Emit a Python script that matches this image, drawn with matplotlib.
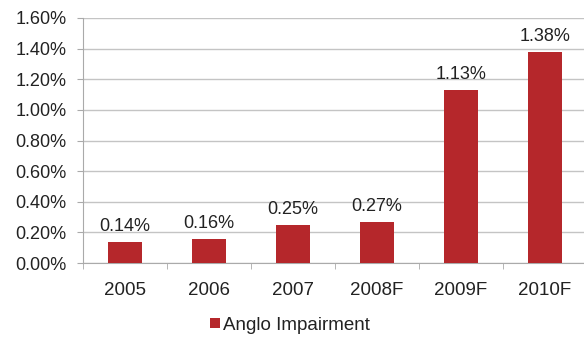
import numpy as np
import matplotlib
matplotlib.use("Agg")
import matplotlib.pyplot as plt
from matplotlib.ticker import FuncFormatter

years = ["2005", "2006", "2007", "2008F", "2009F", "2010F"]
impairment = [0.14, 0.16, 0.25, 0.27, 1.13, 1.38]
y_ticks = [0.0, 0.2, 0.4, 0.6, 0.8, 1.0, 1.2, 1.4, 1.6]

plt.rcParams['font.family'] = ['Liberation Sans', 'DejaVu Sans']

fig = plt.figure(figsize=(5.84, 3.37), dpi=100)
ax = fig.add_axes([83 / 584, 1 - 263 / 337, 504 / 584, 245 / 337])

x = np.arange(len(years))
bars = ax.bar(x, impairment, width=0.4, color="#b5272b", zorder=3,
              label="Anglo Impairment")

for xi, v in zip(x, impairment):
    ax.annotate("%.2f%%" % v, (xi, v), xytext=(0, 5), textcoords="offset points",
                ha="center", va="bottom", fontsize=13, color="#222222")

ax.set_xlim(-0.5, len(years) - 0.5)
ax.set_ylim(0, 1.6)
ax.set_yticks(y_ticks)
ax.yaxis.set_major_formatter(FuncFormatter(lambda v, p: "%.2f%%" % v))
ax.grid(axis="y", color="#c4c4c4", linewidth=1, zorder=0)

# category labels sit between the boundary tick marks
ax.set_xticks(x)
ax.set_xticklabels(years)
ax.set_xticks(np.arange(len(years) + 1) - 0.5, minor=True)
ax.tick_params(axis="x", which="major", length=0, pad=14, labelsize=13.5,
               colors="#222222")
ax.tick_params(axis="x", which="minor", length=4, color="#aaaaaa")
ax.tick_params(axis="y", length=4, color="#aaaaaa", labelsize=13, pad=8,
               labelcolor="#222222")

for side in ["top", "right"]:
    ax.spines[side].set_visible(False)
for side in ["left", "bottom"]:
    ax.spines[side].set_color("#aaaaaa")

fig.legend(handles=[bars], labels=["Anglo Impairment"], loc="center",
           bbox_to_anchor=(290 / 584, 1 - 325 / 337), frameon=False,
           fontsize=13.5, handlelength=0.5, handleheight=0.5, handletextpad=0.15,
           labelcolor="#222222")

fig.savefig("out.png", dpi=100)
